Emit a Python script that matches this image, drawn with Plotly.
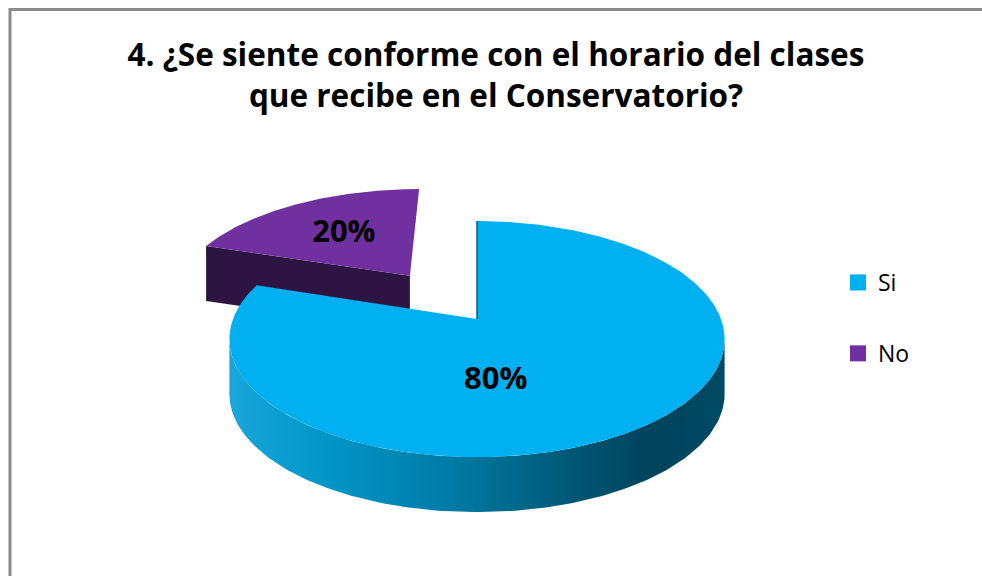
import numpy as np
import plotly.graph_objects as go

# ---- survey data ----
categories = ["Si", "No"]
values = [80, 20]
explode = [0.0, 0.5]          # radial pull-out of each slice (fraction of radius)
top_colors = ["#00B0F0", "#7030A0"]
title_text = "4. ¿Se siente conforme con el horario del clases<br>que recibe en el Conservatorio?"

W, H = 982, 576
FONT = "Open Sans"

# ---- 3-D pie geometry (screen pixels, y grows downward) ----
CX, CY = 477.0, 319.0   # projected pie centre
A, B = 244.0, 114.6     # horizontal / vertical radius of the disc
K = 0.17                # perspective strength (far side shrinks)
DEPTH = 55.0            # thickness of the disc on screen


def proj(u, v, drop=0.0):
    """Project disc coordinates (u right, v away from viewer) to pixels."""
    u = np.asarray(u, dtype=float)
    v = np.asarray(v, dtype=float)
    w = 1.0 + K * v
    return CX + A * u / w, CY - B * v / w + drop


def rim(a0, a1, off, n=160, drop=0.0):
    """Points on the rim between angles a0..a1 (clockwise from 12 o'clock)."""
    t = np.linspace(a0, a1, n)
    return proj(np.sin(t) + off[0], np.cos(t) + off[1], drop)


fig = go.Figure()

# slice angles from the values
fractions = np.array(values, dtype=float) / sum(values)
ends = np.cumsum(fractions) * 2 * np.pi
starts = ends - fractions * 2 * np.pi
mids = (starts + ends) / 2
offsets = [(e * np.sin(m), e * np.cos(m)) for e, m in zip(explode, mids)]

# ---- "No" slice (behind) ----
i = 1
off = offsets[i]
a0, a1 = starts[i], ends[i]
# visible cut face along the starting edge
ax_, ay_ = proj(off[0], off[1])
ex, ey = proj(np.sin(a0) + off[0], np.cos(a0) + off[1])
fig.add_trace(go.Scatter(
    x=[ax_, ex, ex, ax_, ax_], y=[ay_, ey, ey + DEPTH, ay_ + DEPTH, ay_],
    mode="lines", fill="toself", fillcolor="#2E1442",
    line=dict(width=0, color="#2E1442"), hoverinfo="skip", showlegend=False))
# top face
rx, ry = rim(a0, a1, off)
fig.add_trace(go.Scatter(
    x=np.r_[ax_, rx, ax_], y=np.r_[ay_, ry, ay_],
    mode="lines", fill="toself", fillcolor=top_colors[i],
    line=dict(width=0, color=top_colors[i]), hoverinfo="skip", showlegend=False))

# ---- "Si" slice (front) ----
i = 0
off = offsets[i]
a0, a1 = starts[i], ends[i]
# front side wall between the silhouette angles
s0 = max(a0, np.pi / 2 + np.arcsin(K))
s1 = min(a1, 3 * np.pi / 2 - np.arcsin(K))
tx, ty = rim(s0, s1, off)
bx, by = rim(s1, s0, off, drop=DEPTH)
fig.add_trace(go.Scatter(
    x=np.r_[tx, bx, tx[0]], y=np.r_[ty, by, ty[0]],
    mode="lines", fill="toself",
    fillgradient=dict(type="horizontal", colorscale=[
        [0.0, "#1AA6DA"], [0.2, "#0096C7"], [0.45, "#007BA6"],
        [0.7, "#005674"], [0.85, "#00435C"], [1.0, "#004A64"]]),
    line=dict(width=0, color="#00435C"), hoverinfo="skip", showlegend=False))
# top face
ax_, ay_ = proj(off[0], off[1])
rx, ry = rim(a0, a1, off, n=400)
fig.add_trace(go.Scatter(
    x=np.r_[ax_, rx, ax_], y=np.r_[ay_, ry, ay_],
    mode="lines", fill="toself", fillcolor=top_colors[i],
    line=dict(width=0, color=top_colors[i]), hoverinfo="skip", showlegend=False))
# thin edge of the cut face at 12 o'clock
ex, ey = proj(np.sin(a0) + off[0], np.cos(a0) + off[1])
fig.add_trace(go.Scatter(
    x=[ex, ax_], y=[ey, ay_], mode="lines",
    line=dict(width=1.5, color="#0B5F7C"), hoverinfo="skip", showlegend=False))

# ---- percentage labels ----
label_uv = [(0.07, -0.50), (-0.33, 0.44)]
for i in range(len(values)):
    lx, ly = proj(label_uv[i][0] + offsets[i][0], label_uv[i][1] + offsets[i][1])
    fig.add_trace(go.Scatter(
        x=[lx], y=[ly], mode="text", text=[f"{values[i]}%"],
        textfont=dict(family=FONT, size=31, color="#000000", weight="bold"),
        hoverinfo="skip", showlegend=False))

# ---- legend entries ----
for i, name in enumerate(categories):
    fig.add_trace(go.Scatter(
        x=[None], y=[None], mode="markers", name=name, legendgroup=name,
        marker=dict(symbol="square", size=16, color=top_colors[i])))

fig.update_layout(
    width=W, height=H,
    margin=dict(l=0, r=0, t=0, b=0),
    paper_bgcolor="white", plot_bgcolor="white",
    xaxis=dict(range=[0, W], visible=False, fixedrange=True),
    yaxis=dict(range=[H, 0], visible=False, fixedrange=True),
    title=dict(text=f"<b>{title_text}</b>", x=496 / W, xanchor="center",
               y=1 - 66 / H, yanchor="middle",
               font=dict(family=FONT, size=31.5, color="#000000")),
    legend=dict(x=838 / W, xanchor="left", y=1 - 261 / H, yanchor="top",
                font=dict(family=FONT, size=23, color="#000000"),
                tracegroupgap=38, bgcolor="rgba(0,0,0,0)"),
    shapes=[dict(type="rect", xref="paper", yref="paper",
                 x0=10 / W, x1=1.02, y0=-0.02, y1=1 - 9.5 / H,
                 line=dict(color="#8A8A8A", width=3))],
)

fig.write_html("out.html")
